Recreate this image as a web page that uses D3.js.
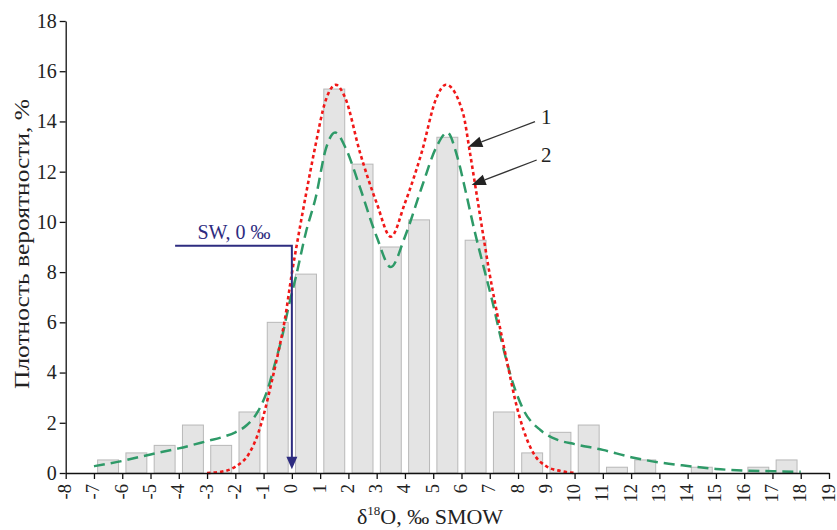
<!DOCTYPE html>
<html>
<head>
<meta charset="utf-8">
<script src="https://cdn.jsdelivr.net/npm/d3@7"></script>
<style>
  body { margin: 0; background: #fff; }
  svg text { font-family: "Liberation Serif", "Times New Roman", serif; fill: #222; }
</style>
</head>
<body>
<svg width="837" height="530"></svg>
<script>
// Гистограмма: начало интервала и плотность, %
const binStarts = [-7, -6, -5, -4, -3, -2, -1, 0, 1, 2, 3, 4, 5, 6, 7, 8, 9, 10, 11, 12, 14, 16, 17];
const binValues = [0.52, 0.8, 1.1, 1.91, 1.1, 2.43, 6.0, 7.92, 15.29, 12.3, 9.0, 10.08, 13.37, 9.27, 2.43, 0.8, 1.62, 1.91, 0.23, 0.52, 0.23, 0.23, 0.52];

// Кривая 1 (красная, точечная)
const curve1X = [-3, -2.5, -2, -1.5, -1.2, -1, -0.7, -0.5, -0.25, 0, 0.2, 0.5, 0.8, 1.2, 1.55, 1.9, 2.4, 3.0, 3.5, 4.0, 4.6, 5.1, 5.45, 6.05, 6.3, 6.55, 6.8, 7.0, 7.2, 7.45, 7.7, 7.9, 8.2, 8.55, 9.0, 9.5, 10];
const curve1Y = [0, 0.05, 0.25, 0.8, 1.55, 2.3, 3.7, 4.7, 6.1, 7.95, 9.25, 11.1, 12.85, 14.85, 15.46, 14.9, 12.8, 10.75, 9.41, 10.75, 12.8, 14.9, 15.46, 14.35, 12.75, 11.0, 9.25, 7.9, 6.7, 5.3, 3.95, 2.9, 1.7, 0.78, 0.27, 0.08, 0];

// Кривая 2 (зелёная, пунктир)
const curve2X = [-7, -6, -5, -4, -3, -2.4, -2, -1.6, -1.2, -0.85, -0.6, -0.35, -0.1, 0.15, 0.5, 0.85, 1.2, 1.53, 1.9, 2.4, 3.0, 3.5, 4.0, 4.6, 5.1, 5.5, 5.85, 6.15, 6.45, 6.75, 7.1, 7.45, 7.8, 8.2, 8.8, 9.4, 10, 11, 12, 13, 14, 15, 16, 17, 18];
const curve2Y = [0.27, 0.48, 0.74, 0.98, 1.27, 1.45, 1.62, 1.9, 2.45, 3.35, 4.35, 5.4, 6.7, 7.85, 9.6, 11.0, 12.9, 13.56, 12.95, 11.4, 9.41, 8.2, 9.41, 11.4, 12.95, 13.56, 12.6, 11.2, 9.7, 8.35, 6.8, 5.1, 3.65, 2.5, 1.7, 1.32, 1.15, 0.92, 0.63, 0.42, 0.28, 0.16, 0.1, 0.07, 0.05];

const xTicks = d3.range(-8, 20, 1);
const yTicks = d3.range(0, 19, 2);

const svg = d3.select("svg");
const x = d3.scaleLinear().domain([-8, 19]).range([65.7, 829]);
const y = d3.scaleLinear().domain([0, 18]).range([473, 21]);

// Столбцы
svg.append("g")
  .selectAll("rect")
  .data(binStarts.map((b, i) => ({ b, v: binValues[i] })))
  .join("rect")
  .attr("x", d => x(d.b + 0.13))
  .attr("width", d => x(d.b + 0.87) - x(d.b + 0.13))
  .attr("y", d => y(d.v))
  .attr("height", d => y(0) - y(d.v))
  .attr("fill", "#e4e4e4")
  .attr("stroke", "#b8b8b8")
  .attr("stroke-width", 1);

const line = d3.line()
  .x(d => x(d[0]))
  .y(d => y(d[1]))
  .curve(d3.curveMonotoneX);

svg.append("path")
  .datum(curve2X.map((v, i) => [v, curve2Y[i]]))
  .attr("d", line)
  .attr("fill", "none")
  .attr("stroke", "#2e9a68")
  .attr("stroke-width", 2.5)
  .attr("stroke-dasharray", "11,6");

svg.append("path")
  .datum(curve1X.map((v, i) => [v, curve1Y[i]]))
  .attr("d", line)
  .attr("fill", "none")
  .attr("stroke", "#f01818")
  .attr("stroke-width", 2.6)
  .attr("stroke-dasharray", "3.5,3");

// Оси
svg.append("g")
  .attr("transform", `translate(0,${y(0)})`)
  .call(d3.axisBottom(x).tickValues(xTicks).tickSize(6).tickSizeOuter(0).tickFormat(d => String(d)))
  .call(g => g.selectAll("text")
    .attr("transform", "rotate(-90)")
    .attr("text-anchor", "end")
    .attr("x", -11)
    .attr("y", 0)
    .attr("dy", "0.27em")
    .style("font-size", "18.5px"));

svg.append("g")
  .attr("transform", `translate(${x(-8)},0)`)
  .call(d3.axisLeft(y).tickValues(yTicks).tickSize(6).tickSizeOuter(0))
  .call(g => g.selectAll("text").attr("x", -9).style("font-size", "20px"));

svg.selectAll(".domain, .tick line").attr("stroke", "#111").attr("stroke-width", 1.3);

// Подписи осей
svg.append("text")
  .attr("transform", `translate(29,244) rotate(-90)`)
  .attr("text-anchor", "middle")
  .attr("textLength", 290)
  .attr("lengthAdjust", "spacingAndGlyphs")
  .style("font-size", "22px")
  .text("Плотность вероятности, %");

const xl = svg.append("text")
  .attr("x", 430)
  .attr("y", 524)
  .attr("text-anchor", "middle")
  .style("font-size", "22px");
xl.append("tspan").text("δ");
xl.append("tspan").attr("dy", -9).style("font-size", "13px").text("18");
xl.append("tspan").attr("dy", 9).text("O, ‰ SMOW");

// SW, 0 ‰
const navy = "#2e2c80";
svg.append("path")
  .attr("d", `M${x(-4.13)},${y(9.05)} H${x(0)} V${y(0.45)}`)
  .attr("fill", "none")
  .attr("stroke", navy)
  .attr("stroke-width", 2);
svg.append("path")
  .attr("d", `M${x(0) - 5.5},${y(0.65)} L${x(0) + 5.5},${y(0.65)} L${x(0)},${y(0.15)} Z`)
  .attr("fill", navy);
svg.append("text")
  .attr("x", 234)
  .attr("y", 239)
  .attr("text-anchor", "middle")
  .style("font-size", "20px")
  .style("fill", navy)
  .text("SW, 0 ‰");

// Выноски 1 и 2
const leaders = [
  { label: "1", from: [535, 121.7], to: [468.3, 146.7], tx: 541, ty: 124 },
  { label: "2", from: [536.7, 160], to: [471.7, 185], tx: 541, ty: 162 }
];
leaders.forEach(d => {
  const ang = Math.atan2(d.to[1] - d.from[1], d.to[0] - d.from[0]);
  const len = 14, w = 5.5;
  const bx = d.to[0] - len * Math.cos(ang), by = d.to[1] - len * Math.sin(ang);
  svg.append("line")
    .attr("x1", d.from[0]).attr("y1", d.from[1])
    .attr("x2", bx).attr("y2", by)
    .attr("stroke", "#333").attr("stroke-width", 1.3);
  svg.append("path")
    .attr("d", `M${d.to[0]},${d.to[1]} L${bx - w * Math.sin(ang)},${by + w * Math.cos(ang)} L${bx + w * Math.sin(ang)},${by - w * Math.cos(ang)} Z`)
    .attr("fill", "#222");
  svg.append("text")
    .attr("x", d.tx).attr("y", d.ty)
    .style("font-size", "21px")
    .text(d.label);
});
</script>
</body>
</html>
